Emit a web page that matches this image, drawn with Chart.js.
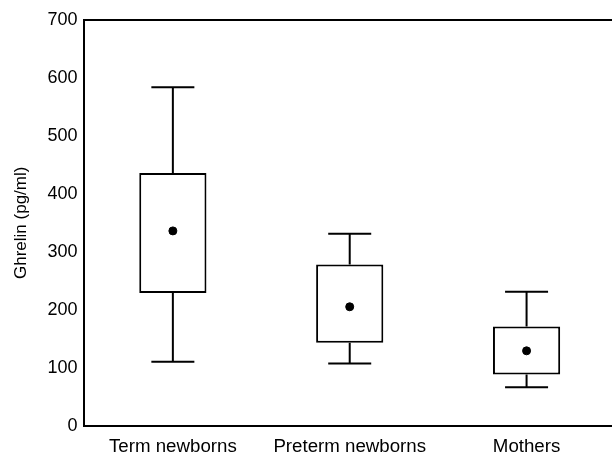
<!DOCTYPE html>
<html>
<head>
<meta charset="utf-8">
<script src="https://cdn.jsdelivr.net/npm/chart.js@4"></script>
<style>
  html, body { margin: 0; padding: 0; background: #fff; overflow: hidden; }
  #wrap { position: relative; width: 620px; height: 459px; }
</style>
</head>
<body>
<div id="wrap"><canvas id="chart"></canvas></div>
<script>
const groups = ["Term newborns", "Preterm newborns", "Mothers"];
const whiskerLow = [110, 107, 66];
const boxLow = [229, 143, 88];
const centerDot = [336, 205, 129];
const boxHigh = [436, 278, 171];
const whiskerHigh = [584, 331, 231];
const yTicks = [0, 100, 200, 300, 400, 500, 600, 700];

// whiskers + top frame line
const whiskerPlugin = {
  id: "whiskers",
  beforeDatasetsDraw(chart) {
    const ctx = chart.ctx;
    const x = chart.scales.x;
    const y = chart.scales.y;
    const bars = chart.getDatasetMeta(0).data;
    ctx.save();
    ctx.strokeStyle = "#000";
    ctx.lineWidth = 2;
    groups.forEach((g, i) => {
      const cx = x.getPixelForValue(i);
      const half = bars[i].width * 0.32;
      ctx.beginPath();
      ctx.moveTo(cx, y.getPixelForValue(whiskerHigh[i]));
      ctx.lineTo(cx, y.getPixelForValue(boxHigh[i]));
      ctx.moveTo(cx, y.getPixelForValue(boxLow[i]));
      ctx.lineTo(cx, y.getPixelForValue(whiskerLow[i]));
      ctx.moveTo(cx - half, y.getPixelForValue(whiskerHigh[i]));
      ctx.lineTo(cx + half, y.getPixelForValue(whiskerHigh[i]));
      ctx.moveTo(cx - half, y.getPixelForValue(whiskerLow[i]));
      ctx.lineTo(cx + half, y.getPixelForValue(whiskerLow[i]));
      ctx.stroke();
    });
    const a = chart.chartArea;
    ctx.lineWidth = 2;
    ctx.beginPath();
    ctx.moveTo(a.left, a.top);
    ctx.lineTo(a.right + 5, a.top);
    ctx.stroke();
    ctx.restore();
  }
};

new Chart(document.getElementById("chart"), {
  type: "bar",
  data: {
    labels: groups,
    datasets: [
      {
        order: 1,
        data: groups.map((g, i) => [boxLow[i], boxHigh[i]]),
        backgroundColor: "#fff",
        borderColor: "#000",
        borderWidth: 2,
        borderSkipped: false,
        barPercentage: 0.38,
        categoryPercentage: 1
      },
      {
        order: 0,
        type: "line",
        data: centerDot,
        showLine: false,
        pointRadius: 4,
        pointBackgroundColor: "#000",
        pointBorderColor: "#000"
      }
    ]
  },
  options: {
    responsive: true,
    maintainAspectRatio: false,
    animation: false,
    layout: { padding: { top: 20, right: 0, bottom: -9, left: 11 } },
    plugins: { legend: { display: false }, tooltip: { enabled: false } },
    scales: {
      x: {
        grid: { display: false, drawTicks: false },
        border: { color: "#000", width: 2 },
        ticks: {
          color: "#000",
          padding: 10,
          font: { family: "Liberation Sans", size: 18.7 }
        }
      },
      y: {
        min: 0,
        max: 700,
        afterBuildTicks: (axis) => {
          axis.ticks = yTicks.map((v) => ({ value: v }));
        },
        grid: { display: false, drawTicks: false },
        border: { color: "#000", width: 2 },
        ticks: {
          color: "#000",
          padding: 7,
          font: { family: "Liberation Sans", size: 18 }
        },
        title: {
          display: true,
          text: "Ghrelin (pg/ml)",
          color: "#000",
          padding: { top: 0, bottom: 9 },
          font: { family: "Liberation Sans", size: 17 }
        }
      }
    }
  },
  plugins: [whiskerPlugin]
});
</script>
</body>
</html>
